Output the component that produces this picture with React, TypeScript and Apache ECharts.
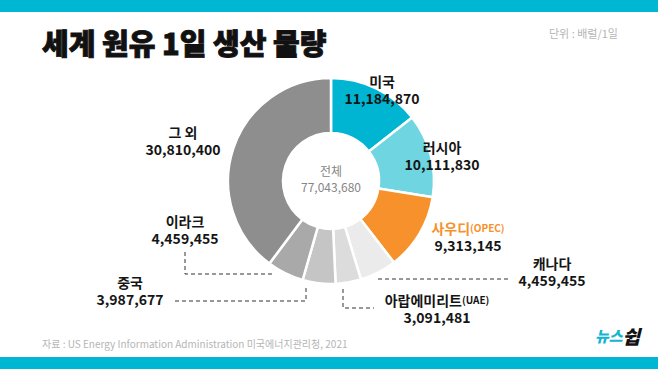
import React, { useEffect, useRef } from "react";
import * as echarts from "echarts";

const categories = ["미국", "러시아", "사우디", "캐나다", "아랍에미리트", "중국", "이라크", "그 외"];
const tags = ["", "", "(OPEC)", "", "(UAE)", "", "", ""];
const values = [11184870, 10111830, 9313145, 4459455, 3091481, 3987677, 4459455, 30810400];
const totalValue = 77043680;
const colors = ["#00b5d2", "#6fd5e1", "#f7912b", "#ebebeb", "#dcdcdc", "#c5c5c5", "#a9a9a9", "#8e8e8e"];
const labelPos = [
  [382, 89], [442, 155], [468, 236], [552, 271],
  [437, 308], [130, 290], [185, 229], [183, 140],
];
const leaderLines = [
  [[378, 279], [510, 279]],
  [[343, 289], [343, 308], [374, 308]],
  [[306, 288], [306, 301], [175, 301]],
  [[185, 252], [185, 274], [275, 274]],
];

const FONT = '"Noto Sans CJK KR", "Noto Sans", sans-serif';
const fmt = (v: number) => v.toLocaleString("en-US");

export default function App() {
  const ref = useRef<HTMLDivElement>(null);
  useEffect(() => {
    document.body.style.margin = "0";
    const chart = echarts.init(ref.current!, null, { renderer: "svg" });
    const graphic: any[] = [
      { type: "rect", shape: { x: 0, y: 0, width: 658, height: 12 }, style: { fill: "#00b7d3" } },
      { type: "rect", shape: { x: 0, y: 357, width: 658, height: 12 }, style: { fill: "#00b7d3" } },
      {
        type: "text", x: 42, y: 42,
        style: {
          text: "세계 원유 1일 생산 물량", font: `900 29px ${FONT}`, fill: "#111",
          stroke: "#111", lineWidth: 0.9, textVerticalAlign: "middle",
        },
      },
      {
        type: "text", x: 618, y: 33,
        style: { text: "단위 : 배럴/1일", font: `11px ${FONT}`, fill: "#b5b5b5", textAlign: "right", textVerticalAlign: "middle" },
      },
      {
        type: "text", x: 42, y: 343,
        style: { text: "자료 : US Energy Information Administration 미국에너지관리청, 2021", font: `10px ${FONT}`, fill: "#b5b5b5", textVerticalAlign: "middle" },
      },
      {
        type: "text", x: 640, y: 335,
        style: {
          text: "{a|뉴스}{b|쉽}", textAlign: "right", textVerticalAlign: "middle",
          rich: {
            a: { font: `italic 900 15px ${FONT}`, fill: "#13b5cf" },
            b: { font: `italic 900 19px ${FONT}`, fill: "#111" },
          },
        },
      },
      {
        type: "text", x: 331, y: 170,
        style: { text: "전체", font: `12px ${FONT}`, fill: "#858585", textAlign: "center", textVerticalAlign: "middle" },
      },
      {
        type: "text", x: 331, y: 186,
        style: { text: fmt(totalValue), font: `12px ${FONT}`, fill: "#858585", textAlign: "center", textVerticalAlign: "middle" },
      },
      ...leaderLines.map((pts) => ({
        type: "polyline",
        shape: { points: pts },
        style: { stroke: "#333", lineWidth: 1, lineDash: [4, 3], fill: null },
      })),
    ];

    chart.setOption({
      animation: false,
      backgroundColor: "#ffffff",
      graphic,
      series: [
        {
          type: "pie",
          center: [331, 181],
          radius: [48, 103],
          startAngle: 90,
          clockwise: true,
          avoidLabelOverlap: false,
          itemStyle: { borderColor: "#ffffff", borderWidth: 2.5 },
          labelLine: { show: false },
          label: {
            show: true,
            position: "outside",
            formatter: (p: any) => {
              const i = p.dataIndex;
              const head = i === 2 ? `{o|${categories[i]}}{os|${tags[i]}}` : `{n|${categories[i]}}${tags[i] ? `{t|${tags[i]}}` : ""}`;
              return `${head}\n{v|${fmt(values[i])}}`;
            },
            align: "center",
            rich: {
              n: { fontFamily: FONT, fontWeight: "bold", fontSize: 14, color: "#151515", lineHeight: 17, align: "center" },
              t: { fontFamily: FONT, fontWeight: "bold", fontSize: 10, color: "#151515", lineHeight: 17 },
              o: { fontFamily: FONT, fontWeight: "bold", fontSize: 14, color: "#f7912b", lineHeight: 17 },
              os: { fontFamily: FONT, fontWeight: "bold", fontSize: 10, color: "#f7912b", lineHeight: 17 },
              v: { fontFamily: FONT, fontWeight: "bold", fontSize: 14, color: "#151515", lineHeight: 17, align: "center" },
            },
          },
          labelLayout: (params: any) => {
            const pos = labelPos[params.dataIndex];
            return { x: pos[0], y: pos[1], align: "center", verticalAlign: "middle" };
          },
          data: categories.map((c, i) => ({
            name: c,
            value: values[i],
            itemStyle: { color: colors[i] },
          })),
        },
      ],
    });
    return () => chart.dispose();
  }, []);
  return <div ref={ref} style={{ width: 658, height: 369 }} />;
}
